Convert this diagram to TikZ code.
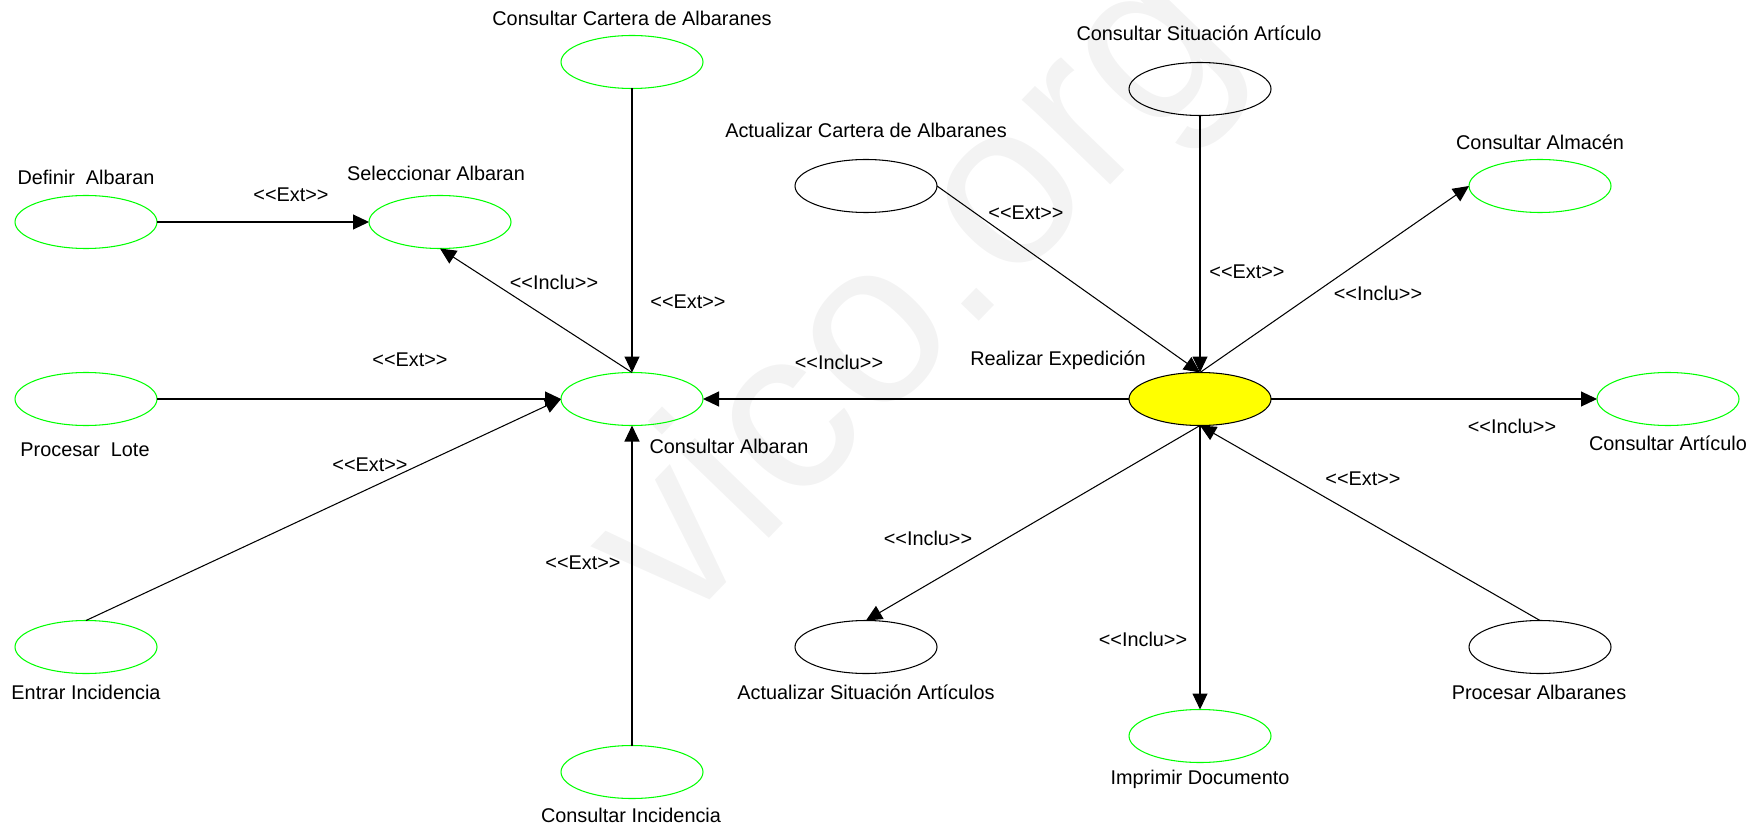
\documentclass[tikz,border=0pt]{standalone}
\usepackage{fontspec}
\setmainfont{Liberation Sans}
\usepackage{tikz}
\usetikzlibrary{shapes,arrows.meta,positioning}
\definecolor{usegreen}{RGB}{0, 255, 0}
\definecolor{expyellow}{RGB}{255, 255, 0}
\definecolor{markgray}{RGB}{243, 243, 243}

\begin{document}
\begin{tikzpicture}[every node/.style={font=\fontsize{11.3}{13.5}\selectfont}]
    % Styles
    \tikzstyle{usecase} = [ellipse, draw=usegreen, line width=0.6pt, minimum width=2.84cm, minimum height=1.06cm, inner sep=0pt, outer sep=0pt]
    \tikzstyle{extcase} = [usecase, draw=black]
    \tikzstyle{maincase} = [usecase, draw=black, fill=expyellow]
    \tikzstyle{stereo} = [inner sep=0pt]
    \tikzstyle{arrow} = [line width=0.6pt, ->, >={Triangle[length=0.32cm, width=0.3cm]}]

    \useasboundingbox (0,0) rectangle (35.2,16.56);
    \clip (0,0) rectangle (35.2,16.56);

    % Watermark
    \node[anchor=base west, rotate=46, inner sep=0pt, text=markgray, font=\fontsize{132}{132}\selectfont] (wmark) at (13.56, 3.90) {vico.org};

    % Left cluster: Consultar Albaran
    \node[usecase] (cons_cartera) at (12.64, 15.32) {};
    \node (lab_cons_cartera) at (12.64, 16.20) {Consultar Cartera de Albaranes};
    \node[usecase] (def_alb) at (1.72, 12.12) {};
    \node (lab_def_alb) at (1.72, 13.02) {Definir~~Albaran};
    \node[usecase] (sel_alb) at (8.80, 12.12) {};
    \node (lab_sel_alb) at (8.72, 13.10) {Seleccionar Albaran};
    \node[usecase] (proc_lote) at (1.72, 8.58) {};
    \node (lab_proc_lote) at (1.70, 7.56) {Procesar~~Lote};
    \node[usecase] (cons_alb) at (12.64, 8.58) {};
    \node (lab_cons_alb) at (14.58, 7.64) {Consultar Albaran};
    \node[usecase] (entrar_inc) at (1.72, 3.62) {};
    \node (lab_entrar_inc) at (1.72, 2.72) {Entrar Incidencia};
    \node[usecase] (cons_inc) at (12.64, 1.12) {};
    \node (lab_cons_inc) at (12.62, 0.26) {Consultar Incidencia};

    % Right cluster: Realizar Expedicion
    \node[extcase] (act_cartera) at (17.32, 12.84) {};
    \node (lab_act_cartera) at (17.32, 13.96) {Actualizar Cartera de Albaranes};
    \node[extcase] (cons_sit) at (24.00, 14.78) {};
    \node (lab_cons_sit) at (23.98, 15.90) {Consultar Situación Artículo};
    \node[usecase] (cons_almacen) at (30.80, 12.84) {};
    \node (lab_cons_almacen) at (30.80, 13.72) {Consultar Almacén};
    \node[maincase] (realizar) at (24.00, 8.58) {};
    \node (lab_realizar) at (21.16, 9.36) {Realizar Expedición};
    \node[usecase] (cons_art) at (33.36, 8.58) {};
    \node (lab_cons_art) at (33.36, 7.70) {Consultar Artículo};
    \node[extcase] (act_sit) at (17.32, 3.62) {};
    \node (lab_act_sit) at (17.32, 2.72) {Actualizar Situación Artículos};
    \node[extcase] (proc_alb) at (30.80, 3.62) {};
    \node (lab_proc_alb) at (30.78, 2.72) {Procesar Albaranes};
    \node[usecase] (imprimir) at (24.00, 1.84) {};
    \node (lab_imprimir) at (24.00, 0.98) {Imprimir Documento};

    % Stereotypes
    \node[stereo] (ext_def) at (5.82, 12.66) {<{}<Ext>{}>};
    \node[stereo] (inc_sel) at (11.08, 10.92) {<{}<Inclu>{}>};
    \node[stereo] (ext_cartera) at (13.76, 10.52) {<{}<Ext>{}>};
    \node[stereo] (ext_lote) at (8.20, 9.36) {<{}<Ext>{}>};
    \node[stereo] (inc_alb) at (16.78, 9.32) {<{}<Inclu>{}>};
    \node[stereo] (ext_entrar) at (7.40, 7.26) {<{}<Ext>{}>};
    \node[stereo] (ext_inc) at (11.66, 5.30) {<{}<Ext>{}>};
    \node[stereo] (ext_act_cartera) at (20.52, 12.30) {<{}<Ext>{}>};
    \node[stereo] (ext_sit) at (24.94, 11.12) {<{}<Ext>{}>};
    \node[stereo] (inc_almacen) at (27.56, 10.70) {<{}<Inclu>{}>};
    \node[stereo] (inc_art) at (30.24, 8.04) {<{}<Inclu>{}>};
    \node[stereo] (ext_proc_alb) at (27.26, 6.98) {<{}<Ext>{}>};
    \node[stereo] (inc_act_sit) at (18.56, 5.80) {<{}<Inclu>{}>};
    \node[stereo] (inc_imprimir) at (22.86, 3.78) {<{}<Inclu>{}>};

    % Arrows
    \draw[arrow] (def_alb.east) -- (sel_alb.west);
    \draw[arrow] (cons_alb.north) -- (sel_alb.south);
    \draw[arrow] (cons_cartera.south) -- (cons_alb.north);
    \draw[arrow] (proc_lote.east) -- (cons_alb.west);
    \draw[arrow] (entrar_inc.north) -- (cons_alb.west);
    \draw[arrow] (cons_inc.north) -- (cons_alb.south);
    \draw[arrow] (realizar.west) -- (cons_alb.east);

    \draw[arrow] (act_cartera.east) -- (realizar.north);
    \draw[arrow] (cons_sit.south) -- (realizar.north);
    \draw[arrow] (realizar.north) -- (cons_almacen.west);
    \draw[arrow] (realizar.east) -- (cons_art.west);
    \draw[arrow] (proc_alb.north) -- (realizar.south);
    \draw[arrow] (realizar.south) -- (act_sit.north);
    \draw[arrow] (realizar.south) -- (imprimir.north);
\end{tikzpicture}
\end{document}
